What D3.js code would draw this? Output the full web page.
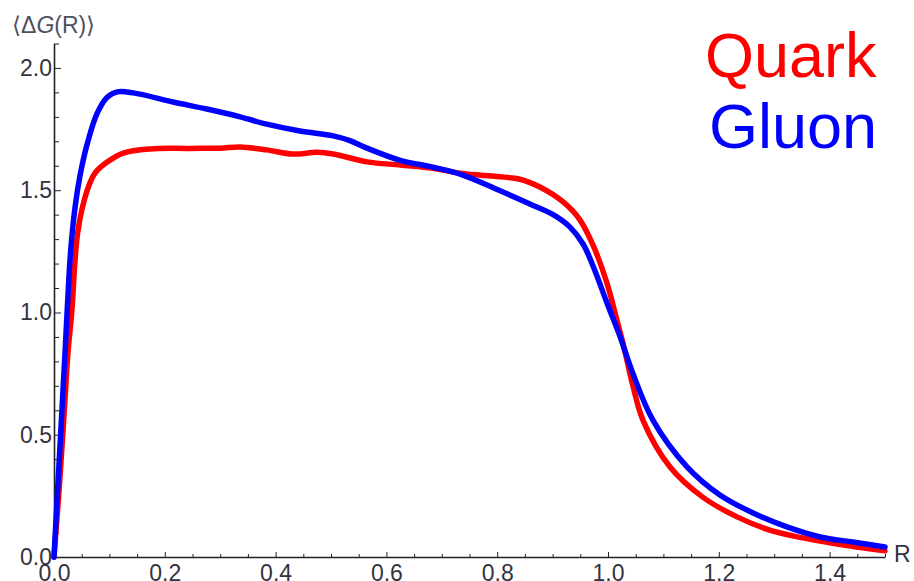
<!DOCTYPE html>
<head>
	<meta charset="utf-8">
	<title>Quark / Gluon</title>
	<style>
	body { margin: 0; background: #fff; }
	.tick text { font: 23px "Liberation Sans", Arial, sans-serif; fill: #333340; }
	.axis path, .axis line { stroke: #222; }
	.curve { fill: none; stroke-width: 5.5; stroke-linejoin: round; stroke-linecap: round; }
	</style>
</head>
<body>
<script src="https://d3js.org/d3.v7.min.js"></script>
<script>

var width = 914, height = 581;

// R values and <dG(R)>
var quarkR = [0, 0.01, 0.02, 0.025, 0.032, 0.043, 0.06, 0.074, 0.096, 0.125, 0.173, 0.245, 0.3, 0.336, 0.384, 0.431, 0.475, 0.504, 0.565, 0.625, 0.684, 0.738, 0.8, 0.841, 0.877, 0.919, 0.949, 0.973, 0.998, 1.016, 1.027, 1.045, 1.063, 1.112, 1.171, 1.233, 1.292, 1.352, 1.413, 1.5];
var quarkG = [0, 0.30, 0.65, 0.83, 1.0, 1.33, 1.50, 1.57, 1.615, 1.652, 1.669, 1.671, 1.672, 1.677, 1.665, 1.648, 1.655, 1.648, 1.616, 1.603, 1.59, 1.568, 1.556, 1.545, 1.513, 1.452, 1.38, 1.275, 1.121, 0.969, 0.875, 0.70, 0.56, 0.368, 0.245, 0.164, 0.110, 0.078, 0.053, 0.025];

var gluonR = [0, 0.01, 0.02, 0.025, 0.03, 0.038, 0.047, 0.06, 0.078, 0.096, 0.114, 0.143, 0.215, 0.276, 0.336, 0.384, 0.444, 0.504, 0.534, 0.565, 0.625, 0.684, 0.738, 0.8, 0.859, 0.901, 0.931, 0.955, 0.973, 0.998, 1.022, 1.045, 1.081, 1.143, 1.202, 1.262, 1.323, 1.383, 1.442, 1.5];
var gluonG = [0, 0.42, 0.84, 1.06, 1.25, 1.43, 1.56, 1.69, 1.815, 1.88, 1.902, 1.898, 1.861, 1.832, 1.80, 1.77, 1.742, 1.722, 1.703, 1.672, 1.622, 1.594, 1.562, 1.503, 1.444, 1.40, 1.35, 1.28, 1.19, 1.04, 0.90, 0.75, 0.56, 0.368, 0.254, 0.180, 0.123, 0.082, 0.061, 0.041];

var xMajor = [0, 0.2, 0.4, 0.6, 0.8, 1.0, 1.2, 1.4];
var yMajor = [0, 0.5, 1.0, 1.5, 2.0];
var legendNames = ["Quark", "Gluon"];
var legendColors = ["#ff0000", "#0000ff"];

var svg = d3.select("body")
	.append("svg")
	.attr("width", width)
	.attr("height", height);

var x = d3.scaleLinear().domain([0, 1.5]).range([54, 885]);
var y = d3.scaleLinear().domain([0, 2.1]).range([557, 43.5]);

var xMinor = d3.range(0, 31).map(function(i) { return i * 0.05; })
	.filter(function(v) { return Math.abs(v * 5 - Math.round(v * 5)) > 1e-6; });
var yMinor = d3.range(0, 22).map(function(i) { return i * 0.1; })
	.filter(function(v) { return Math.abs(v * 2 - Math.round(v * 2)) > 1e-6; });

// minor ticks
svg.append("g").attr("class", "axis")
	.attr("transform", "translate(0," + y(0) + ")")
	.call(d3.axisBottom(x).tickValues(xMinor).tickSize(-3).tickFormat(""))
	.call(function(g) { g.select(".domain").remove(); });
svg.append("g").attr("class", "axis")
	.attr("transform", "translate(" + x(0) + ",0)")
	.call(d3.axisLeft(y).tickValues(yMinor).tickSize(-5).tickFormat(""))
	.call(function(g) { g.select(".domain").remove(); });

// major ticks + labels
svg.append("g").attr("class", "axis")
	.attr("transform", "translate(0," + y(0) + ")")
	.call(d3.axisBottom(x).tickValues(xMajor).tickSize(-5).tickSizeOuter(0).tickPadding(8).tickFormat(d3.format(".1f")))
	.call(function(g) { g.select(".domain").attr("stroke-width", 1.6); });
svg.append("g").attr("class", "axis")
	.attr("transform", "translate(" + x(0) + ",0)")
	.call(d3.axisLeft(y).tickValues(yMajor).tickSize(-7).tickSizeOuter(0).tickPadding(2).tickFormat(d3.format(".1f")))
	.call(function(g) { g.select(".domain").attr("stroke-width", 1.6); });

// axis labels
svg.append("text")
	.attr("x", 12).attr("y", 33)
	.style("font", "23px 'Liberation Sans', Arial, sans-serif")
	.style("fill", "#50505e")
	.html("\u27E8\u0394<tspan font-style='italic'>G</tspan>(R)\u27E9");

svg.append("text")
	.attr("x", 894).attr("y", 562)
	.style("font", "23px 'Liberation Sans', Arial, sans-serif")
	.style("fill", "#333340")
	.text("R");

var line = d3.line()
	.x(function(d) { return x(d[0]); })
	.y(function(d) { return y(d[1]); })
	.curve(d3.curveCatmullRom.alpha(0.5));

var quark = quarkR.map(function(r, i) { return [r, quarkG[i]]; });
var gluon = gluonR.map(function(r, i) { return [r, gluonG[i]]; });

svg.append("path").datum(quark).attr("class", "curve")
	.attr("stroke", legendColors[0]).attr("d", line);
svg.append("path").datum(gluon).attr("class", "curve")
	.attr("stroke", legendColors[1]).attr("d", line);

// legend
svg.selectAll(".legend")
	.data(legendNames)
	.enter().append("text")
	.attr("class", "legend")
	.attr("x", function(d, i) { return i == 0 ? 705 : 709; })
	.attr("y", function(d, i) { return 77 + i * 71; })
	.style("font", "63px 'Liberation Sans', Arial, sans-serif")
	.style("fill", function(d, i) { return legendColors[i]; })
	.text(function(d) { return d; });

</script>
